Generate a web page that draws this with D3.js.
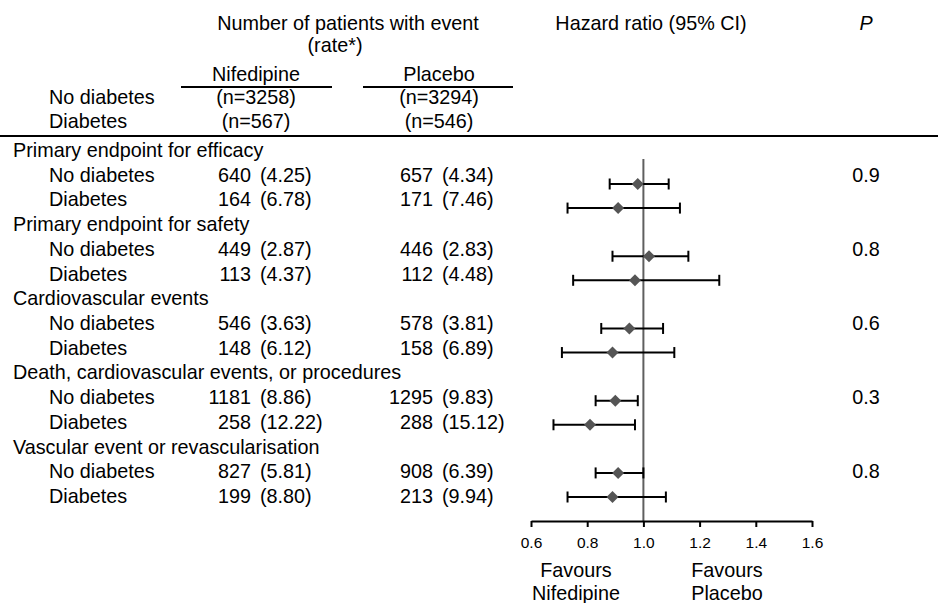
<!DOCTYPE html>
<html>
<head>
<meta charset="utf-8">
<script src="https://cdn.jsdelivr.net/npm/d3@7"></script>
<style>
  html, body { margin: 0; padding: 0; background: #fff; }
  svg { display: block; font-family: "Liberation Sans", Arial, Helvetica, sans-serif; }
</style>
</head>
<body>
<svg id="chart" width="938" height="603"></svg>
<script>
// ---------- data ----------
const groups = [
  "Primary endpoint for efficacy",
  "Primary endpoint for safety",
  "Cardiovascular events",
  "Death, cardiovascular events, or procedures",
  "Vascular event or revascularisation"
];
const subgroups = ["No diabetes", "Diabetes"];
const nifeEvents = [640, 164, 449, 113, 546, 148, 1181, 258, 827, 199];
const nifeRates  = ["4.25", "6.78", "2.87", "4.37", "3.63", "6.12", "8.86", "12.22", "5.81", "8.80"];
const placEvents = [657, 171, 446, 112, 578, 158, 1295, 288, 908, 213];
const placRates  = ["4.34", "7.46", "2.83", "4.48", "3.81", "6.89", "9.83", "15.12", "6.39", "9.94"];
const hrPoint = [0.98, 0.91, 1.02, 0.97, 0.95, 0.89, 0.90, 0.81, 0.91, 0.89];
const hrLow   = [0.88, 0.73, 0.89, 0.75, 0.85, 0.71, 0.83, 0.68, 0.83, 0.73];
const hrHigh  = [1.09, 1.13, 1.16, 1.27, 1.07, 1.11, 0.98, 0.97, 1.00, 1.08];
const pValues = ["0.9", "0.8", "0.6", "0.3", "0.8"];
const nifeN = ["(n=3258)", "(n=567)"];
const placN = ["(n=3294)", "(n=546)"];
const xTicks = [0.6, 0.8, 1.0, 1.2, 1.4, 1.6];

// ---------- layout ----------
const svg = d3.select("#chart");
const FS = 19.8;
const x = d3.scaleLinear().domain([0.6, 1.6]).range([531, 812]);
const yText = d3.scaleLinear().domain([-1, 13]).range([157, 503]);   // text baselines by row index
const yMark = d3.scaleLinear().domain([0, 13]).range([184, 497]);    // CI marks by row index
const axisY = 521;

const rows = [];
groups.forEach((g, gi) => {
  subgroups.forEach((s, si) => {
    const i = gi * 2 + si;
    rows.push({ idx: gi * 3 + si, g: gi, sub: s, i });
  });
});

const txt = (xx, yy, s, anchor = "start", size = FS) =>
  svg.append("text").attr("x", xx).attr("y", yy).attr("text-anchor", anchor)
     .attr("font-size", size).attr("fill", "#000").text(s);

// ---------- header ----------
txt(348, 30, "Number of patients with event", "middle");
txt(335, 52, "(rate*)", "middle");
txt(256, 81, "Nifedipine", "middle");
txt(439, 81, "Placebo", "middle");
txt(651, 30, "Hazard ratio (95% CI)", "middle");
txt(866, 30, "P", "middle").attr("font-style", "italic");

svg.append("line").attr("x1", 181).attr("x2", 332).attr("y1", 87).attr("y2", 87)
   .attr("stroke", "#000").attr("stroke-width", 2);
svg.append("line").attr("x1", 363).attr("x2", 513).attr("y1", 87).attr("y2", 87)
   .attr("stroke", "#000").attr("stroke-width", 2);

subgroups.forEach((s, si) => {
  const yy = 104 + si * 24;
  txt(49, yy, s);
  txt(256, yy, nifeN[si], "middle");
  txt(439, yy, placN[si], "middle");
});

svg.append("line").attr("x1", 0).attr("x2", 938).attr("y1", 136).attr("y2", 136)
   .attr("stroke", "#000").attr("stroke-width", 2);

// ---------- table rows ----------
groups.forEach((g, gi) => {
  txt(13, yText(gi * 3 - 1), g);
  txt(866, yText(gi * 3), pValues[gi], "middle");
});

rows.forEach(r => {
  const yy = yText(r.idx);
  txt(49, yy, r.sub);
  txt(251, yy, String(nifeEvents[r.i]), "end");
  txt(260, yy, "(" + nifeRates[r.i] + ")");
  txt(433, yy, String(placEvents[r.i]), "end");
  txt(442, yy, "(" + placRates[r.i] + ")");
});

// ---------- forest plot ----------
svg.append("line").attr("x1", x(1)).attr("x2", x(1)).attr("y1", 159).attr("y2", axisY)
   .attr("stroke", "#5f5f5f").attr("stroke-width", 2);

const ci = svg.append("g").attr("stroke", "#000").attr("stroke-width", 2);
rows.forEach(r => {
  const yy = yMark(r.idx);
  ci.append("line").attr("x1", x(hrLow[r.i])).attr("x2", x(hrHigh[r.i])).attr("y1", yy).attr("y2", yy);
  ci.append("line").attr("x1", x(hrLow[r.i])).attr("x2", x(hrLow[r.i])).attr("y1", yy - 5.5).attr("y2", yy + 5.5);
  ci.append("line").attr("x1", x(hrHigh[r.i])).attr("x2", x(hrHigh[r.i])).attr("y1", yy - 5.5).attr("y2", yy + 5.5);
});

const diamond = d3.symbol().type(d3.symbolSquare).size(72);
svg.append("g").selectAll("path").data(rows).join("path")
  .attr("d", diamond)
  .attr("transform", r => `translate(${x(hrPoint[r.i])},${yMark(r.idx)}) rotate(45)`)
  .attr("fill", "#555");

// ---------- axis ----------
const axis = d3.axisBottom(x).tickValues(xTicks).tickFormat(d3.format(".1f"))
  .tickSize(6).tickSizeOuter(0);
const ax = svg.append("g").attr("transform", `translate(0,${axisY})`).call(axis);
ax.select(".domain").attr("stroke", "#000").attr("stroke-width", 2);
ax.selectAll(".tick line").attr("stroke", "#000").attr("stroke-width", 2);
ax.selectAll(".tick text").attr("y", 27).attr("dy", 0)
  .attr("font-size", 15.5).attr("fill", "#000")
  .attr("font-family", "\"Liberation Sans\", Arial, sans-serif");

txt(576, 577, "Favours", "middle");
txt(576, 600, "Nifedipine", "middle");
txt(727, 577, "Favours", "middle");
txt(727, 600, "Placebo", "middle");
</script>
</body>
</html>
